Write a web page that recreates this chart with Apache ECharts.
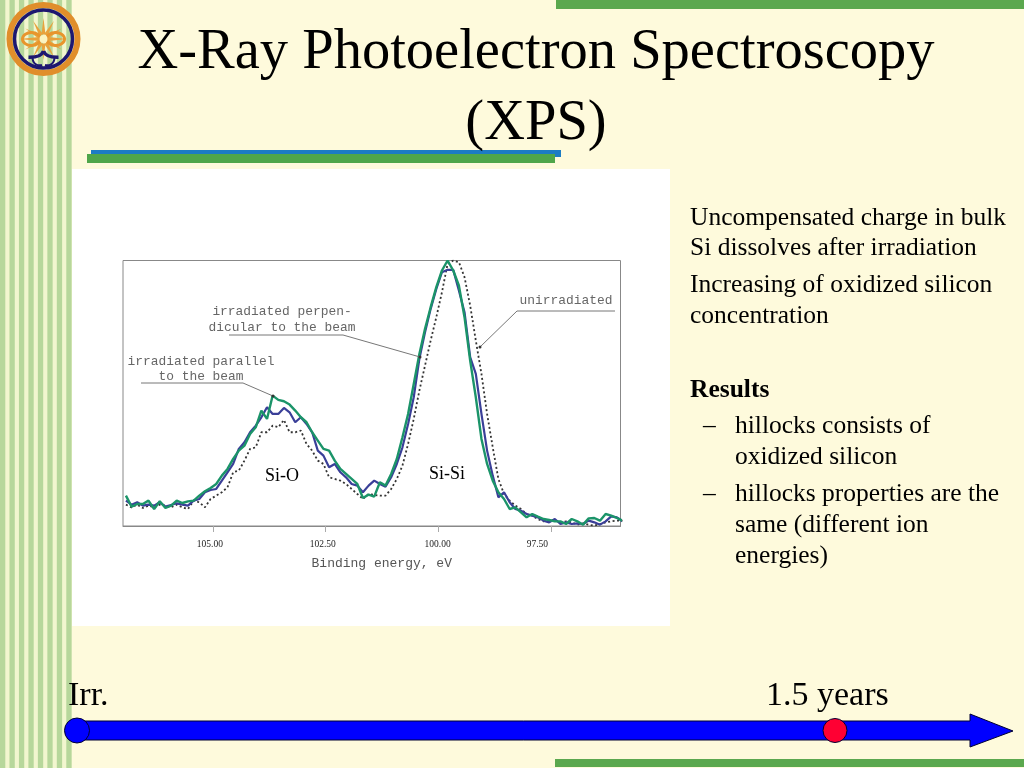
<!DOCTYPE html>
<html><head><meta charset="utf-8">
<style>html,body{margin:0;padding:0;background:#FEFADC}#c{width:1024px;height:768px}</style>
<script src="https://cdn.jsdelivr.net/npm/echarts@6/dist/echarts.min.js"></script>
</head><body><div id="c"></div>
<script>
const bindingEnergy=[106.925,106.8,106.675,106.55,106.425,106.3,106.175,106.05,105.925,105.8,105.675,105.55,105.425,105.3,105.175,105.05,104.925,104.8,104.675,104.55,104.425,104.3,104.175,104.05,103.925,103.8,103.675,103.55,103.425,103.3,103.175,103.05,102.925,102.8,102.675,102.55,102.425,102.3,102.175,102.05,101.925,101.8,101.675,101.55,101.425,101.3,101.175,101.05,100.925,100.8,100.675,100.55,100.425,100.3,100.175,100.05,99.925,99.8,99.675,99.55,99.425,99.3,99.175,99.05,98.925,98.8,98.675,98.55,98.425,98.3,98.175,98.05,97.925,97.8,97.675,97.55,97.425,97.3,97.175,97.05,96.925,96.8,96.675,96.55,96.425,96.3,96.175,96.05,95.925];
const unirradiated=[64,56,64,54,61,56,64,61,56,64,56,51,76,71,56,81,91,101,116,161,166,196,231,236,281,281,301,296,318,281,281,286,246,226,196,186,146,141,136,126,111,96,81,96,93,91,91,111,141,181,246,321,406,481,556,626,701,786,796,791,746,661,556,456,336,236,141,96,76,61,51,36,31,21,14,16,18,11,14,11,4,8,4,1,6,11,14,16,16];
const perpendicular=[76,64,71,61,64,61,71,58,63,68,64,61,76,81,101,108,111,136,161,186,231,251,281,301,326,356,336,336,354,341,311,326,306,281,226,211,176,186,161,146,126,121,101,121,136,126,118,146,186,236,306,386,501,581,651,711,761,768,768,706,641,506,456,336,226,151,86,101,71,51,46,36,31,26,16,11,21,6,11,6,8,6,16,11,4,14,29,26,14];
const parallel=[91,58,66,66,76,51,74,54,61,76,69,74,76,91,104,114,126,151,171,201,226,241,276,296,346,321,391,378,374,364,346,326,311,281,256,231,226,196,171,156,141,126,84,94,88,131,121,156,201,266,336,426,516,591,656,716,766,796,766,721,626,496,386,261,186,136,101,81,51,56,41,26,36,28,21,18,14,14,6,21,14,4,23,24,16,36,31,24,16];
const tickValues=[105,102.5,100,97.5];
const titleText='X-Ray Photoelectron Spectroscopy\n(XPS)';
const serif='"Liberation Serif","Times New Roman",serif';
const mono='"Liberation Mono",monospace';

const toXY=a=>a.map((v,i)=>[bindingEnergy[i],v]);
const g=[];
const rect=(x,y,w,h,fill,z)=>g.push({type:'rect',shape:{x,y,width:w,height:h},style:{fill},z:z,silent:true});
const txt=(x,y,t,font,fill,align='left')=>g.push({type:'text',x,y,z:20,silent:true,style:{text:t,font,fill,align,verticalAlign:'middle'}});

// background stripes
rect(0,0,72,768,'#F2F6CF',-30);
for(let i=0;i<8;i++) rect(i*9.47,0,5.3,768,'#B7D79B',-29);
// white panel
rect(72,169,598,457,'#FFFFFF',-20);
// header bars
rect(556,0,468,9,'#5BA84E',-20);
rect(555,759,469,8,'#5BA84E',-20);
rect(91,150,470,7,'#1C7CC4',-19);
rect(87,154,468,9,'#4FA64A',-18);

// logo
const cx=43.5,cy=39,navy='#1D1770',gold='#E8A23C';
const bez=(x1,y1,cpx1,cpy1,cpx2,cpy2,x2,y2,w,c)=>g.push({type:'bezierCurve',z:-3,silent:true,shape:{x1,y1,cpx1,cpy1,cpx2,cpy2,x2,y2},style:{fill:'none',stroke:c,lineWidth:w}});
for(let k=0;k<12;k++){
  const a=k*30*Math.PI/180, b=0.4, r=(k%3===0&&k!==3&&k!==9)?24:21;
  g.push({type:'polygon',z:-5,silent:true,shape:{points:[[cx+r*Math.cos(a),cy+r*Math.sin(a)],[cx+5*Math.cos(a+b),cy+5*Math.sin(a+b)],[cx+5*Math.cos(a-b),cy+5*Math.sin(a-b)]]},style:{fill:gold}});
}
g.push({type:'ellipse',z:-4,silent:true,shape:{cx:cx-12,cy:cy,rx:9,ry:6.5},style:{fill:'none',stroke:'#E8952C',lineWidth:3}});
g.push({type:'ellipse',z:-4,silent:true,shape:{cx:cx+12,cy:cy,rx:9,ry:6.5},style:{fill:'none',stroke:'#E8952C',lineWidth:3}});
g.push({type:'circle',z:-4,silent:true,shape:{cx,cy,r:4},style:{fill:'#FBF3C0'}});
g.push({type:'circle',z:-4,silent:true,shape:{cx,cy,r:34},style:{fill:'none',stroke:'#E08E2B',lineWidth:6}});
g.push({type:'circle',z:-4,silent:true,shape:{cx,cy,r:29},style:{fill:'none',stroke:navy,lineWidth:3.5}});
[-1,1].forEach(s=>{
  bez(cx+s*15,57.3,cx+s*8,57.5,cx+s*2,56.5,cx,51,3.5,navy);
  bez(cx+s*11,57,cx+s*11,65,cx+s*5,66,cx+s*1.5,65,2,navy);
});

// annotations
const leader=(pts)=>{
  g.push({type:'polyline',z:15,silent:true,shape:{points:pts},style:{fill:'none',stroke:'#777',lineWidth:1}});
  const p=pts[pts.length-1];
  g.push({type:'circle',z:15,silent:true,shape:{cx:p[0],cy:p[1],r:1.5},style:{fill:'#333'}});
};
leader([[141,383],[243,383],[273,396]]);
leader([[229,335],[343,335],[420,357]]);
leader([[615,311],[517,311],[480,347]]);
const noteFont='12.9px '+mono;
txt(282,312,'irradiated perpen-',noteFont,'#666','center');
txt(282,328,'dicular to the beam',noteFont,'#666','center');
txt(201,362,'irradiated parallel',noteFont,'#666','center');
txt(201,377,'to the beam',noteFont,'#666','center');
txt(566,301,'unirradiated',noteFont,'#666','center');
txt(282,476,'Si-O','18px '+serif,'#000','center');
txt(447,474,'Si-Si','18px '+serif,'#000','center');

// right text
const bf='25.5px '+serif;
[['Uncompensated charge in bulk',690,218],['Si dissolves after irradiation',690,248],['Increasing of oxidized silicon',690,285],['concentration',690,316],
 ['hillocks consists of',735,426],['oxidized silicon',735,457],['hillocks properties are the',735,494],['same (different ion',735,525],['energies)',735,556],
 ['\u2013',703,426],['\u2013',703,494]].forEach(r=>txt(r[1],r[2],r[0],bf,'#000'));
txt(690,390,'Results','bold 25.5px '+serif,'#000');

// timeline
txt(68,696,'Irr.','34px '+serif,'#000');
txt(766,696,'1.5 years','34px '+serif,'#000');
g.push({type:'polygon',z:16,silent:true,shape:{points:[[77,721],[970,721],[970,714],[1013,731],[970,747],[970,740],[77,740]]},style:{fill:'#0000FF',stroke:'#000033',lineWidth:1}});
g.push({type:'circle',z:17,silent:true,shape:{cx:77,cy:730.5,r:12.5},style:{fill:'#0000FF',stroke:'#000033',lineWidth:1}});
g.push({type:'circle',z:17,silent:true,shape:{cx:835,cy:730.5,r:12},style:{fill:'#FF0033',stroke:'#000033',lineWidth:1}});

const line=(name,data,color,width,type)=>({name,type:'line',data:toXY(data),showSymbol:false,symbol:'none',smooth:false,clip:true,lineStyle:{color,width,type},itemStyle:{color}});
const labelKey={105:'a',102.5:'a',100:'b',97.5:'c'};

const chart=echarts.init(document.getElementById('c'),null,{renderer:'canvas'});
chart.setOption({
  animation:false,
  backgroundColor:'#FEFADC',
  title:{text:titleText,left:531,top:13,textAlign:'center',textStyle:{fontFamily:serif,fontSize:56.5,fontWeight:'normal',color:'#000',lineHeight:71}},
  grid:{left:123,top:260.5,width:497.5,height:265.5,show:true,borderColor:'#888',borderWidth:1,backgroundColor:'transparent'},
  xAxis:{type:'value',inverse:true,min:95.97,max:106.99,name:'Binding energy, eV',nameLocation:'middle',nameGap:31,
    nameTextStyle:{fontFamily:mono,fontSize:13,color:'#555',padding:[0,0,0,20]},
    axisLine:{show:true,lineStyle:{color:'#888'}},
    axisTick:{show:true,length:6,inside:false,customValues:tickValues,lineStyle:{color:'#aaa'}},
    axisLabel:{customValues:tickValues,formatter:v=>'{'+labelKey[v]+'|'+Number(v).toFixed(2)+'}',margin:13,
      rich:{a:{padding:[0,6,0,0],fontFamily:serif,fontSize:9.5,color:'#222'},b:{padding:[0,2,0,0],fontFamily:serif,fontSize:9.5,color:'#222'},c:{padding:[0,28,0,0],fontFamily:serif,fontSize:9.5,color:'#222'}}},
    splitLine:{show:false}},
  yAxis:{type:'value',min:0,max:796,show:false,splitLine:{show:false}},
  series:[line('unirradiated',unirradiated,'#333',1.8,[2,2.5]),
          line('irradiated perpendicular to the beam',perpendicular,'#3A3F98',2.2,'solid'),
          line('irradiated parallel to the beam',parallel,'#1B9469',2.4,'solid')],
  graphic:{elements:g}
});
</script></body></html>
